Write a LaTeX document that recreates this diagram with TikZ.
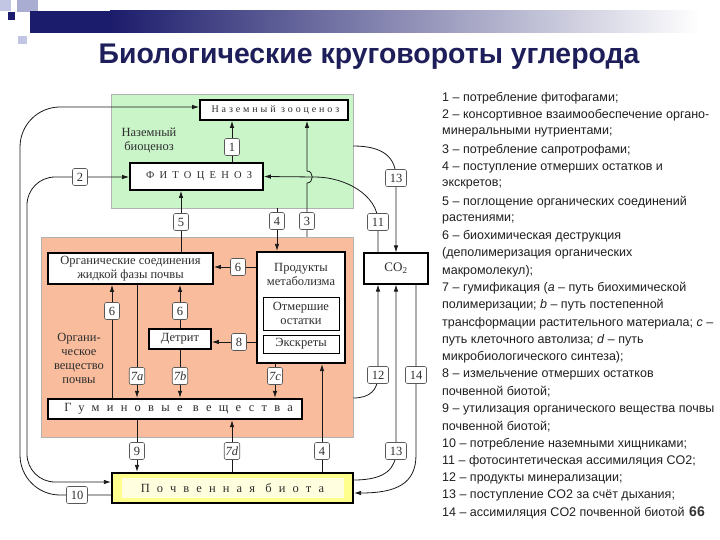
\documentclass[tikz,border=0pt]{standalone}
\usepackage{fontspec}
\setmainfont{Liberation Serif}
\newfontfamily\lsans{Liberation Sans}
\usetikzlibrary{arrows.meta,calc}
\pgfdeclarelayer{panel}
\pgfdeclarelayer{wire}
\pgfsetlayers{panel,wire,main}
\definecolor{navyc}{HTML}{1C1C6C}
\definecolor{titlec}{HTML}{1E1E5A}
\definecolor{greenp}{HTML}{C9F5C9}
\definecolor{orangep}{HTML}{F9BC9C}
\definecolor{yellowp}{HTML}{FFFF8E}
\definecolor{yellowin}{HTML}{FFFFE0}
\definecolor{txtc}{HTML}{2E2E2E}
\definecolor{sqa}{HTML}{C3C6E2}
\definecolor{sqb}{HTML}{A9ADD2}
\begin{document}
\begin{tikzpicture}[x=1pt,y=-1pt,
  box/.style={draw=black, line width=1.8pt, fill=white, inner sep=1pt, text=txtc, font=\fontsize{12.5}{14}\selectfont, align=center},
  thinbox/.style={draw=black, line width=0.9pt, fill=white, inner sep=1pt, text=txtc, font=\fontsize{12.5}{14}\selectfont, align=center},
  numl/.style={draw=black!65, fill=white, rounded corners=2pt, line width=0.6pt, minimum width=15pt, minimum height=17pt, inner sep=1.5pt, text=txtc, font=\fontsize{12.5}{12}\selectfont},
  wireln/.style={line width=0.8pt, draw=black!90},
  arr/.style={wireln, -{Latex[length=7pt,width=4.5pt]}},
  arrb/.style={wireln, {Latex[length=7pt,width=4.5pt]}-{Latex[length=7pt,width=4.5pt]}},
  panelbox/.style={draw=black!30, line width=0.5pt, inner sep=0pt},
  plain/.style={inner sep=0pt, text=txtc, font=\fontsize{12.5}{14}\selectfont, align=center},
  lst/.style={anchor=west, inner sep=0pt, text=black!88, font=\lsans\fontsize{12.5}{14}\selectfont},
]
\useasboundingbox (0,0) rectangle (720,540);
% header decoration
\fill[sqa] (0,0) rectangle (11,11);
\fill[sqb] (17,0) rectangle (38,12);
\fill[navyc] (8,12) rectangle (15,20);
\fill[sqa] (18,36) rectangle (27,44);
\fill[navyc] (30,11) rectangle (110,33);
\shade[left color=navyc, right color=white] (110,11) rectangle (700,33);
\node[font=\lsans\bfseries\fontsize{28.4}{32}\selectfont, text=titlec] (title) at (369,57) {Биологические круговороты углерода};

% panels
\begin{pgfonlayer}{panel}
\node[panelbox, fill=greenp, minimum width=242pt, minimum height=114pt] (green) at (232,151) {};
\node[panelbox, fill=orangep, minimum width=312pt, minimum height=200pt] (orange) at (197,337) {};
\end{pgfonlayer}

% boxes
\node[box, minimum width=148pt, minimum height=20pt, font=\fontsize{10}{12}\selectfont\addfontfeature{LetterSpace=29}] (zoo) at (274,110) {Наземный зооценоз\hspace{-0.29em}};
\node[box, minimum width=133pt, minimum height=27pt, font=\fontsize{10.5}{12}\selectfont\addfontfeature{LetterSpace=50}] (fito) at (196.5,176.5) {ФИТОЦЕНОЗ\hspace{-0.5em}};
\node[plain] (bioc) at (149,140) {Наземный\\биоценоз};
\node[box, minimum width=165pt, minimum height=31pt] (orgs) at (130.5,268.5) {Органические соединения\\жидкой фазы почвы};
\node[box, line width=2.2pt, minimum width=88pt, minimum height=111pt] (prod) at (301,307.5) {};
\node[plain] (prodt) at (301,274.5) {Продукты\\метаболизма};
\node[thinbox, minimum width=76pt, minimum height=33pt] (otm) at (301,313.5) {Отмершие\\остатки};
\node[thinbox, minimum width=76pt, minimum height=18pt] (exk) at (301,344) {Экскреты};
\node[box, minimum width=62pt, minimum height=20pt] (detr) at (180,339) {Детрит};
\node[plain] (orgv) at (79,358) {Органи-\\ческое\\вещество\\почвы};
\node[box, line width=2.4pt, minimum width=254pt, minimum height=20pt, font=\fontsize{12.5}{14}\selectfont\addfontfeature{LetterSpace=58}] (humus) at (175,409) {Гуминовые вещества\hspace{-0.58em}};
\node[box, line width=2.2pt, fill=yellowp, minimum width=241pt, minimum height=30pt] (biota) at (232.5,488) {};
\node[fill=yellowin, minimum width=222pt, minimum height=20pt, inner sep=0pt, text=txtc, font=\fontsize{12.5}{14}\selectfont\addfontfeature{LetterSpace=57}] (biotat) at (biota) {Почвенная биота\hspace{-0.57em}};
\node[thinbox, line width=1.1pt, minimum width=64pt, minimum height=31pt, font=\fontsize{13}{14}\selectfont] (co2) at (396,268.5) {CO\textsubscript{2}};

% number labels
\node[numl] (l1) at (232,147) {1};
\node[numl] (l2) at (80,177) {2};
\node[numl] (l3) at (307,221) {3};
\node[numl] (l4a) at (277,221) {4};
\node[numl] (l5) at (181,222) {5};
\node[numl, minimum width=21pt] (l11) at (378,222) {11};
\node[numl, minimum width=21pt] (l13a) at (396,178) {13};
\node[numl] (l6a) at (238,267) {6};
\node[numl] (l6b) at (112,311) {6};
\node[numl] (l6c) at (180,311) {6};
\node[numl] (l8) at (239,342) {8};
\node[numl] (l7a) at (137,376) {\textit{7a}};
\node[numl] (l7b) at (180,376) {\textit{7b}};
\node[numl] (l7c) at (275,376) {\textit{7c}};
\node[numl, minimum width=21pt] (l12) at (378,375) {12};
\node[numl, minimum width=21pt] (l14) at (416,375) {14};
\node[numl] (l9) at (137,451) {9};
\node[numl] (l7d) at (232,451) {\textit{7d}};
\node[numl] (l4b) at (322,451) {4};
\node[numl, minimum width=21pt] (l13b) at (396,451) {13};
\node[numl, minimum width=21pt] (l10) at (77,495) {10};

% connectors
\begin{pgfonlayer}{wire}
\draw[arr] (fito.north -| l1) -- (zoo.south -| l1);
\draw[arrb, rounded corners=28pt] ([yshift=6pt]biota.west) -- (27,482) -- (27,177) -- (fito.west |- l2);
\draw[arr, rounded corners=40pt] ([yshift=-7pt]biota.west) -- (20,495) -- (20,107) -- ([yshift=3pt]zoo.west);
\draw[arr] (orange.north -| l3) -- (307,183) .. controls (314,183) and (314,171) .. (307,171) -- (zoo.south -| l3);
\draw[arr] (green.south -| l4a) -- (prod.north -| l4a);
\draw[arr] (orgs.north -| l5) -- (fito.south -| l5);
\draw[arr] (co2.north -| l11) -- (l11.center) .. controls (378,195) and (345,177) .. (315,177) -- (fito.east);
\draw[arr] ([yshift=5pt]green.east) .. controls (384,146) and (396,158) .. (l13a.center) -- (co2.north -| l13a);
\draw[arr] (prod.west |- l6a) -- (orgs.east |- l6a);
\draw[arr] (prod.west |- l8) -- (detr.east |- l8);
\draw[arr] (detr.north) -- (orgs.south -| detr.north);
\draw[arr] (humus.north -| l6b) -- (orgs.south -| l6b);
\draw[arr] (orgs.south -| l7a) -- (humus.north -| l7a);
\draw[arr] (detr.south) -- (humus.north -| detr.south);
\draw[arr] (prod.south -| l7c) -- (humus.north -| l7c);
\draw[arr] (humus.south -| l9) -- (biota.north -| l9);
\draw[arr] (biota.north -| l7d) -- (humus.south -| l7d);
\draw[arr] (biota.north -| l4b) -- (prod.south -| l4b);
\draw[arr] ([yshift=-61pt]orange.east) .. controls (370,398) and (378,390) .. (l12.center) -- (co2.south -| l12);
\draw[arr] ([yshift=8pt]biota.east) .. controls (386,480) and (396,468) .. (l13b.center) -- (co2.south -| l13b);
\draw[arr] (co2.south -| l14) -- (416,455) .. controls (416,484) and (396,493) .. ([yshift=-5pt]biota.east);
\end{pgfonlayer}

% legend
\node[lst] (t0) at (442,98.0) {1 – потребление фитофагами;};
\node[lst] (t1) at (442,115.3) {2 – консортивное взаимообеспечение органо-};
\node[lst] (t2) at (442,132.6) {минеральными нутриентами;};
\node[lst] (t3) at (442,149.9) {3 – потребление сапротрофами;};
\node[lst] (t4) at (442,167.2) {4 – поступление отмерших остатков и};
\node[lst] (t5) at (442,184.5) {экскретов;};
\node[lst] (t6) at (442,201.7) {5 – поглощение органических соединений};
\node[lst] (t7) at (442,219.0) {растениями;};
\node[lst] (t8) at (442,236.3) {6 – биохимическая деструкция};
\node[lst] (t9) at (442,253.6) {(деполимеризация органических};
\node[lst] (t10) at (442,270.9) {макромолекул);};
\node[lst] (t11) at (442,288.2) {7 – гумификация (\textit{a} – путь биохимической};
\node[lst] (t12) at (442,305.5) {полимеризации; \textit{b} – путь постепенной};
\node[lst] (t13) at (442,322.8) {трансформации растительного материала; \textit{c} –};
\node[lst] (t14) at (442,340.1) {путь клеточного автолиза; \textit{d} – путь};
\node[lst] (t15) at (442,357.4) {микробиологического синтеза);};
\node[lst] (t16) at (442,374.6) {8 – измельчение отмерших остатков};
\node[lst] (t17) at (442,391.9) {почвенной биотой;};
\node[lst] (t18) at (442,409.2) {9 – утилизация органического вещества почвы};
\node[lst] (t19) at (442,426.5) {почвенной биотой;};
\node[lst] (t20) at (442,443.8) {10 – потребление наземными хищниками;};
\node[lst] (t21) at (442,461.1) {11 – фотосинтетическая ассимиляция CO2;};
\node[lst] (t22) at (442,478.4) {12 – продукты минерализации;};
\node[lst] (t23) at (442,495.7) {13 – поступление CO2 за счёт дыхания;};
\node[lst] (t24) at (442,513.0) {14 – ассимиляция CO2 почвенной биотой};
\node[font=\lsans\bfseries\fontsize{14}{14}\selectfont, text=black!80] (pg) at (697,512) {66};
\end{tikzpicture}
\end{document}
